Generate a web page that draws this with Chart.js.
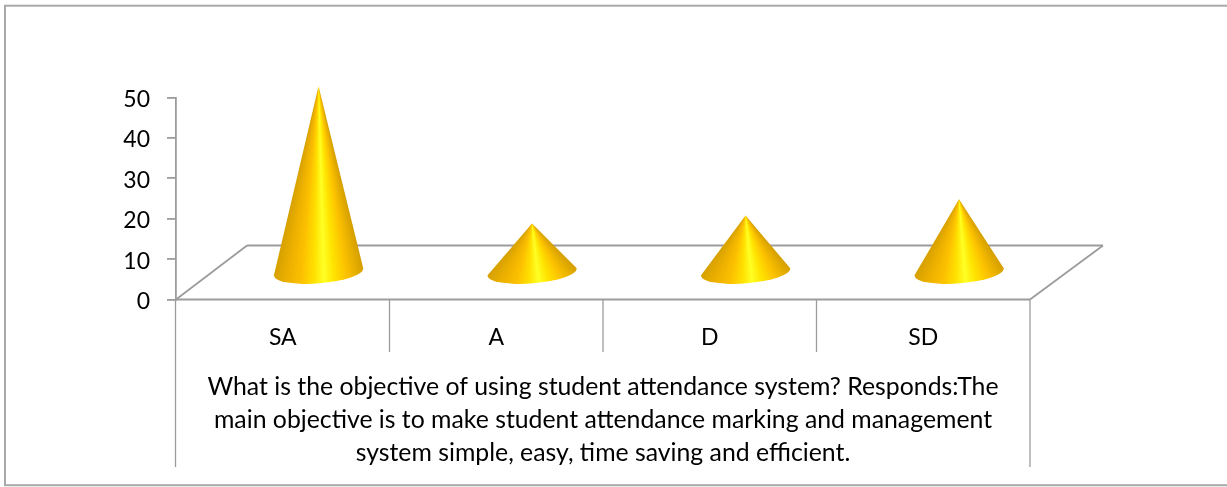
<!DOCTYPE html>
<html>
<head>
<meta charset="utf-8">
<style>
html, body { margin: 0; padding: 0; background: #fff; }
#wrap { width: 1227px; height: 487px; }
</style>
<script src="https://cdn.jsdelivr.net/npm/chart.js@4"></script>
</head>
<body>
<div id="wrap"><canvas id="coneChart" width="1227" height="487"></canvas></div>
<script>
const categories = ['SA', 'A', 'D', 'SD'];
const responses = [46, 12, 14, 18];
const titleLines = [
    'What is the objective of using student attendance system? Responds:The',
    'main objective is to make student attendance marking and management',
    'system simple, easy, time saving and efficient.'
];

const lineColor = '#9c9c9c';
const depthX = 71, depthY = 54; // floor skew of the fake 3d

// left to right shading across a cone
const coneStops = [
    [0, '#d6a000'], [0.15, '#ecb000'], [0.3, '#fcc000'], [0.44, '#ffe000'],
    [0.55, '#ffff24'], [0.66, '#ffe400'], [0.8, '#fcc200'], [1, '#d49e00']
];

function line(ctx, x1, y1, x2, y2) {
    ctx.beginPath();
    ctx.moveTo(x1, y1);
    ctx.lineTo(x2, y2);
    ctx.stroke();
}

const framePlugin = {
    id: 'frame',
    beforeDatasetsDraw(chart) {
        const { ctx, chartArea: a, scales: { x } } = chart;
        const floorY = a.bottom;
        ctx.save();
        ctx.strokeStyle = '#a9a9a9';
        ctx.lineWidth = 2;
        ctx.strokeRect(5, 5.7, 1240, 479.5);

        ctx.strokeStyle = lineColor;
        ctx.lineWidth = 1.8;
        line(ctx, a.left, floorY, a.right, floorY);
        line(ctx, a.left, floorY, a.left + depthX, floorY - depthY);
        line(ctx, a.left + depthX, floorY - depthY, a.right + depthX + 2, floorY - depthY);
        line(ctx, a.right, floorY, a.right + depthX + 2, floorY - depthY);

        // table lines under the floor
        const step = x.getPixelForValue(1) - x.getPixelForValue(0);
        ctx.lineWidth = 1.3;
        line(ctx, a.left - 0.5, floorY, a.left - 0.5, 467);
        line(ctx, a.right, floorY, a.right, 467);
        categories.slice(1).forEach((c, i) => {
            const px = x.getPixelForValue(i + 1) - step / 2;
            line(ctx, px, floorY, px, 352);
        });
        ctx.restore();
    },
    afterDatasetsDraw(chart) {
        const { ctx } = chart;
        chart.getDatasetMeta(0).data.forEach(bar => {
            const rx = bar.width / 2, ry = 11.5, tilt = -0.082;
            const cx = bar.x + depthX / 2 + 0.3;
            const cy = bar.base - depthY / 2 + 0.3;
            const tipX = cx, tipY = bar.y - depthY / 2 - 0.5;
            const rightX = cx + rx * Math.cos(tilt), rightY = cy + rx * Math.sin(tilt);
            const leftX = cx - rx * Math.cos(tilt), leftY = cy - rx * Math.sin(tilt);

            const startAng = Math.atan2(rightY - tipY, rightX - tipX);
            const endAng = Math.atan2(leftY - tipY, leftX - tipX);
            const span = (endAng - startAng) / (Math.PI * 2);
            const grad = ctx.createConicGradient(startAng, tipX, tipY);
            coneStops.forEach(s => grad.addColorStop((1 - s[0]) * span, s[1]));
            ctx.save();
            ctx.fillStyle = grad;
            ctx.beginPath();
            ctx.moveTo(tipX, tipY);
            ctx.lineTo(rightX, rightY);
            ctx.ellipse(cx, cy, rx, ry, tilt, 0, Math.PI);
            ctx.closePath();
            ctx.fill();
            ctx.restore();
        });
    }
};

const labelFont = { family: 'Lato', size: 23 };

new Chart(document.getElementById('coneChart').getContext('2d'), {
    type: 'bar',
    data: {
        labels: categories,
        datasets: [{
            label: 'Responses',
            data: responses,
            backgroundColor: 'rgba(0,0,0,0)',
            borderWidth: 0,
            categoryPercentage: 1,
            barPercentage: 0.42
        }]
    },
    plugins: [framePlugin],
    options: {
        responsive: false,
        animation: false,
        layout: { padding: { left: 0, right: 197, top: 97.5, bottom: 18 } },
        plugins: { legend: { display: false }, tooltip: { enabled: false } },
        scales: {
            x: {
                afterFit(s) { s.height = 169.5; },
                grid: { display: false },
                border: { display: false },
                ticks: { color: '#000', font: labelFont, padding: 16, maxRotation: 0 },
                title: {
                    display: true,
                    text: titleLines,
                    color: '#000',
                    font: { family: 'Lato', size: 24.8, lineHeight: 1.33 },
                    padding: 0
                }
            },
            y: {
                min: 0,
                max: 50,
                afterFit(s) { s.width = 176; },
                ticks: { stepSize: 10, color: '#000', font: labelFont, padding: 17, labelOffset: 2 },
                grid: { drawOnChartArea: false, color: lineColor, lineWidth: 1.8, tickLength: 9 },
                border: { color: lineColor, width: 1.8 }
            }
        }
    }
});
</script>
</body>
</html>
